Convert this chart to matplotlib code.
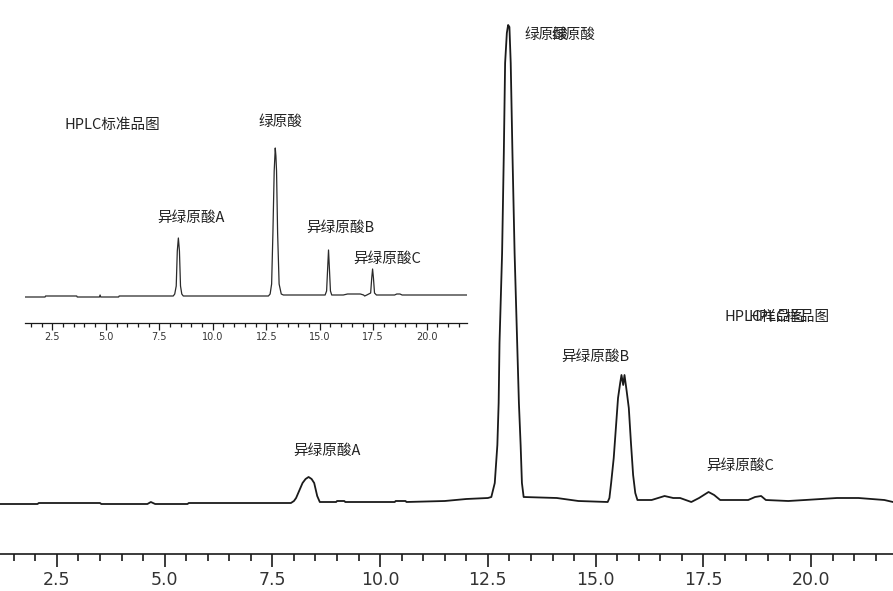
import numpy as np
import matplotlib.pyplot as plt
from matplotlib.ticker import MultipleLocator

plt.rcParams['font.family'] = ['Noto Sans CJK SC', 'DejaVu Sans']

# sample chromatogram (retention time in min, detector signal)
sample_time = [1.20, 2.05, 2.08, 3.50, 3.53, 4.60, 4.68, 4.78, 5.53, 5.56, 7.93,
               8.00, 8.05, 8.12, 8.20, 8.27, 8.34, 8.41, 8.47, 8.54, 8.60,
               8.98, 9.00, 9.17, 9.19, 10.34, 10.36, 10.59, 10.61, 11.50, 12.00,
               12.50, 12.58, 12.66, 12.72, 12.75, 12.77, 12.83, 12.87, 12.90, 12.94,
               12.97, 13.00, 13.03, 13.07, 13.12, 13.18, 13.22, 13.26, 13.29, 13.33,
               14.10, 14.60, 15.28, 15.32, 15.36, 15.42, 15.47, 15.52, 15.57, 15.60,
               15.64, 15.67, 15.72, 15.77, 15.82, 15.87, 15.92, 15.97, 16.30, 16.60,
               16.80, 16.96, 17.22, 17.40, 17.62, 17.75, 17.89, 18.54, 18.70, 18.84,
               18.95, 19.47, 19.86, 20.60, 21.10, 21.70, 21.90]
sample_signal = [-1, -1, 0, 0, -1, -1, 1, -1, -1, 0, 0,
                 2, 5, 12, 20, 24, 26, 24, 20, 7, 1,
                 1, 2, 2, 1, 1, 2, 2, 1, 2, 4,
                 5, 6, 20, 58, 100, 160, 250, 350, 440, 470,
                 478, 476, 440, 350, 250, 160, 100, 58, 20, 6,
                 5, 2, 1, 5, 20, 45, 75, 105, 120, 128,
                 118, 128, 112, 95, 60, 28, 10, 3, 3, 7,
                 5, 5, 1, 5, 11, 8, 3, 3, 6, 7,
                 3, 2, 3, 5, 5, 3, 1]

# standard chromatogram (inset)
std_time = [1.22, 2.16, 2.18, 3.64, 3.66, 4.70, 4.73, 4.76, 5.60, 5.62, 8.15,
            8.22, 8.29, 8.34, 8.39, 8.44, 8.49, 8.55, 8.62, 12.60, 12.68,
            12.75, 12.81, 12.87, 12.92, 12.95, 12.98, 13.03, 13.10, 13.20, 13.30,
            15.25, 15.32, 15.37, 15.41, 15.45, 15.50, 15.56, 16.10, 16.30, 16.90,
            17.05, 17.10, 17.20, 17.38, 17.43, 17.47, 17.51, 17.56, 17.65, 18.50,
            18.60, 18.75, 18.85, 21.87]
std_signal = [-1, -1, 0, 0, -1, -1, 1, -1, -1, 0, 0,
              2, 10, 45, 58, 45, 10, 2, 0, 0, 2,
              12, 63, 125, 148, 140, 125, 63, 12, 2, 1,
              1, 5, 28, 46, 28, 5, 1, 1, 2, 2,
              1, 0, 1, 3, 18, 27, 18, 3, 1, 1,
              2, 2, 1, 1]

major_ticks = [2.5, 5.0, 7.5, 10.0, 12.5, 15.0, 17.5, 20.0]

line_col = '#1a1a1a'
text_col = '#222222'

fig = plt.figure(figsize=(8.93, 5.91), dpi=100)

# main (sample) axes
ax = fig.add_axes([0, 37 / 591, 1, 554 / 591])
ax.plot(sample_time, sample_signal, color=line_col, lw=1.3)
ax.set_xlim(1.18, 21.90)
ax.set_ylim(-51, 503)
for s in ['top', 'left', 'right']:
    ax.spines[s].set_visible(False)
ax.spines['bottom'].set_linewidth(1.2)
ax.spines['bottom'].set_color(line_col)
ax.set_yticks([])
ax.set_xticks(major_ticks)
ax.set_xticklabels([f"{t:.1f}" for t in major_ticks], family='DejaVu Sans',
                   fontsize=12.5, color='#333333')
ax.xaxis.set_minor_locator(MultipleLocator(0.5))
ax.tick_params(axis='x', which='major', direction='out', length=9, width=1.2,
               color=line_col, pad=3)
ax.tick_params(axis='x', which='minor', direction='out', length=5, width=1.2,
               color=line_col)
ax.patch.set_alpha(0)

fs = 10.5
# the reference has doubled, overlapping labels here
ax.text(13.34, 468, "绿原酸", fontsize=fs, color=text_col, ha='left', va='center')
ax.text(13.97, 468, "绿原酸", fontsize=fs, color=text_col, ha='left', va='center')
ax.text(17.98, 186, "HPLC样品图", fontsize=fs, color=text_col, ha='left', va='center')
ax.text(18.54, 186, "HPLC样品图", fontsize=fs, color=text_col, ha='left', va='center')
ax.text(15.0, 146, "异绿原酸B", fontsize=fs, color=text_col, ha='center', va='center')
ax.text(18.36, 37, "异绿原酸C", fontsize=fs, color=text_col, ha='center', va='center')
ax.text(8.77, 52, "异绿原酸A", fontsize=fs, color=text_col, ha='center', va='center')

# inset (standard) axes
ins = fig.add_axes([25 / 893, 268 / 591, 441.7 / 893, 200 / 591])
ins.plot(std_time, std_signal, color='#2a2a2a', lw=0.9)
ins.set_xlim(1.22, 21.87)
ins.set_ylim(-27, 173)
for s in ['top', 'left', 'right']:
    ins.spines[s].set_visible(False)
ins.spines['bottom'].set_linewidth(0.9)
ins.spines['bottom'].set_color(line_col)
ins.set_yticks([])
ins.set_xticks(major_ticks)
ins.set_xticklabels([f"{t:.1f}" for t in major_ticks], family='DejaVu Sans',
                    fontsize=7, color='#333333')
ins.xaxis.set_minor_locator(MultipleLocator(0.5))
ins.tick_params(axis='x', which='major', direction='out', length=5, width=0.9,
                color=line_col, pad=1.5)
ins.tick_params(axis='x', which='minor', direction='out', length=3, width=0.9,
                color=line_col)
ins.patch.set_alpha(0)

ins.text(3.09, 171, "HPLC标准品图", fontsize=fs, color=text_col, ha='left', va='center')
ins.text(13.14, 174, "绿原酸", fontsize=fs, color=text_col, ha='center', va='center')
ins.text(9.0, 78, "异绿原酸A", fontsize=fs, color=text_col, ha='center', va='center')
ins.text(15.97, 68, "异绿原酸B", fontsize=fs, color=text_col, ha='center', va='center')
ins.text(18.16, 37, "异绿原酸C", fontsize=fs, color=text_col, ha='center', va='center')

fig.savefig("out.png", dpi=100)
